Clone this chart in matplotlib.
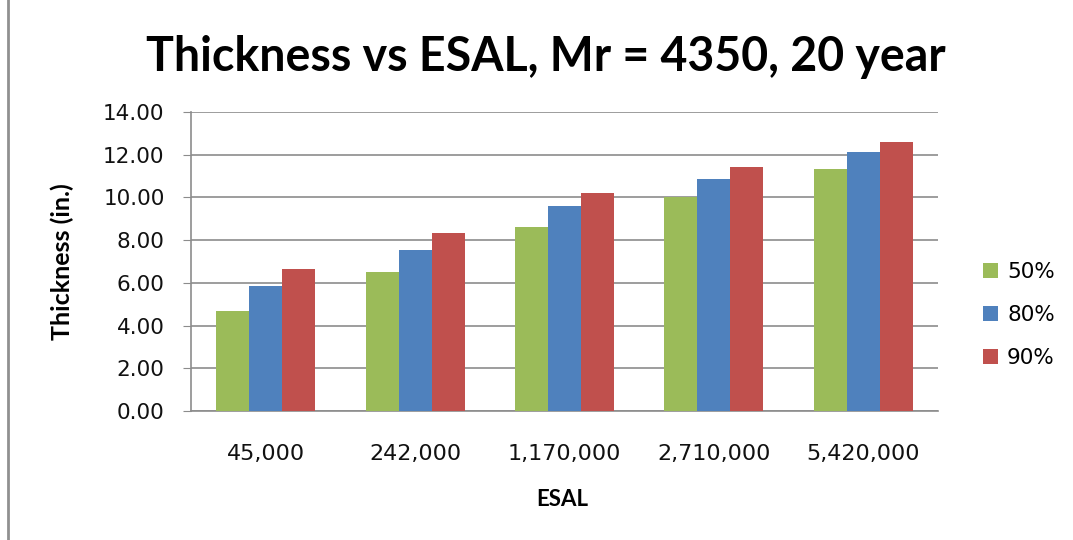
import matplotlib
matplotlib.use("Agg")
import matplotlib.pyplot as plt
import numpy as np
from matplotlib.lines import Line2D
from matplotlib.patches import Patch

# chart data
esal = ["45,000", "242,000", "1,170,000", "2,710,000", "5,420,000"]
rel_50 = [4.70, 6.49, 8.63, 10.04, 11.33]
rel_80 = [5.84, 7.52, 9.58, 10.88, 12.11]
rel_90 = [6.67, 8.32, 10.21, 11.44, 12.61]
series_names = ["50%", "80%", "90%"]
series_colors = ["#9BBB59", "#4F81BD", "#C0504D"]

W, H = 1073, 540
fig = plt.figure(figsize=(W / 100, H / 100), dpi=100)
# plot area in pixels: left 191, right 938, top 112, bottom 411
ax = fig.add_axes([191 / W, (H - 411) / H, (938 - 191) / W, (411 - 112) / H])

x = np.arange(len(esal))
bw = 0.221
for i, (vals, col) in enumerate(zip([rel_50, rel_80, rel_90], series_colors)):
    ax.bar(x + (i - 1) * bw, vals, width=bw, color=col, zorder=3, linewidth=0)

ax.set_xlim(-0.5, len(esal) - 0.5)
ax.set_ylim(0, 14)
ax.set_yticks(np.arange(0, 15, 2))
ax.set_yticklabels([f"{v:.2f}" for v in np.arange(0, 15, 2)])
ax.set_xticks(x)
ax.set_xticklabels(esal)

grid_col = "#8C8C8C"
ax.grid(axis="y", color=grid_col, linewidth=1.2, zorder=0)
for s in ["top", "right"]:
    ax.spines[s].set_visible(False)
ax.spines["left"].set_color(grid_col)
ax.spines["bottom"].set_color(grid_col)
ax.spines["left"].set_linewidth(1.2)
ax.spines["bottom"].set_linewidth(1.2)

ax.tick_params(axis="y", length=6, color=grid_col, pad=13, labelsize=15.5)
ax.tick_params(axis="x", length=0, pad=24, labelsize=16)
for lab in ax.get_xticklabels() + ax.get_yticklabels():
    lab.set_fontfamily("DejaVu Sans")
    lab.set_color("#111111")

fig.text(546 / W, 1 - 57 / H, "Thickness vs ESAL, Mr = 4350, 20 year",
         ha="center", va="center", fontsize=33.5, fontweight="bold", family="Lato")
fig.text(62 / W, 1 - 262 / H, "Thickness (in.)", rotation=90, ha="center",
         va="center", fontsize=18, fontweight="bold", family="Lato")
fig.text(562 / W, 1 - 500 / H, "ESAL", ha="center", va="center",
         fontsize=16, fontweight="bold", family="Lato")

handles = [Patch(facecolor=c, edgecolor="none") for c in series_colors]
leg = fig.legend(handles, series_names, loc="center left",
                 bbox_to_anchor=(964 / W, 1 - 315 / H), frameon=False,
                 prop={"family": "DejaVu Sans", "size": 15.5},
                 handlelength=0.7, handleheight=0.7, labelspacing=1.05,
                 handletextpad=0.4)

# chart frame line on the left
fig.add_artist(Line2D([8 / W, 8 / W], [0, 1], color="#909090", linewidth=2))

fig.savefig("out.png", dpi=100)
